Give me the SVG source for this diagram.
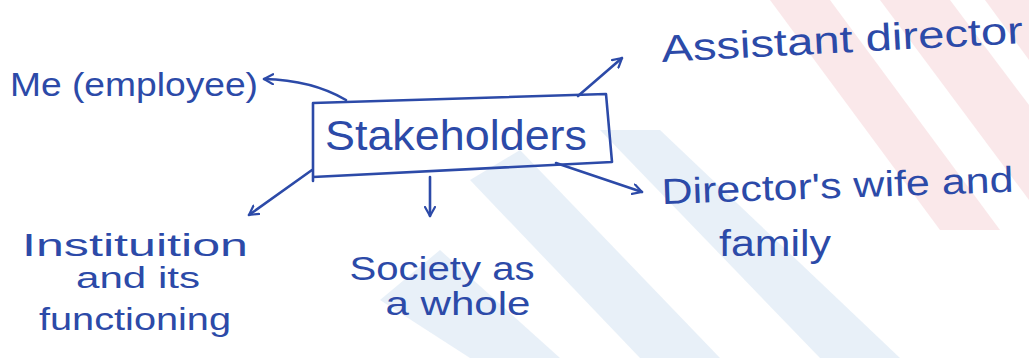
<svg xmlns="http://www.w3.org/2000/svg" width="1029" height="358" viewBox="0 0 1029 358">
<defs>
<marker id="ah" viewBox="0 0 12 12" refX="10" refY="6" markerWidth="12" markerHeight="12" markerUnits="userSpaceOnUse" orient="auto">
<polyline points="1,1 10,6 1,11" fill="none" stroke="#2c4aa8" stroke-width="2.2" stroke-linecap="round" stroke-linejoin="round"/>
</marker>
<style>
.ink{fill:none;stroke:#2c4aa8;stroke-width:2.6;stroke-linecap:round;stroke-linejoin:round}
.t{font-family:"Liberation Sans","DejaVu Sans",sans-serif;fill:#2c4aa8}
.wp{fill:#f6d6d8;opacity:0.55}
.wb{fill:#d6e4f2;opacity:0.55}
</style>
</defs>
<rect width="1029" height="358" fill="#ffffff"/>
<g id="watermark">
<polygon class="wp" points="770,0 830,0 1000,230 940,230"/>
<polygon class="wp" points="880,0 950,0 1029,105 1029,200"/>
<polygon class="wp" points="985,0 1029,0 1029,60"/>
<polygon class="wb" points="600,130 660,130 900,358 820,358"/>
<polygon class="wb" points="470,180 520,150 720,358 640,358"/>
<polygon class="wb" points="380,300 440,250 560,358 470,358"/>
</g>
<g id="connectors">
<path class="ink" d="M346,100 Q312,80 264,79" marker-end="url(#ah)"/>
<path class="ink" d="M578,96 L622,58" marker-end="url(#ah)"/>
<path class="ink" d="M556,163 Q600,178 642,192" marker-end="url(#ah)"/>
<path class="ink" d="M430,177 L430,216" marker-end="url(#ah)"/>
<path class="ink" d="M312,170 L249,215" marker-end="url(#ah)"/>
</g>
<g id="stakeholders">
<path class="ink" d="M313,103 L606,94 L612,162 L313,177 Z M313,177 L313,181"/>
<text class="t" x="325" y="150" font-size="42" textLength="262" lengthAdjust="spacingAndGlyphs">Stakeholders</text>
</g>
<g id="me-employee">
<text class="t" x="10" y="96" font-size="34" textLength="248" lengthAdjust="spacingAndGlyphs">Me (employee)</text>
</g>
<g id="assistant-director">
<text class="t" x="662" y="62" font-size="38" textLength="362" lengthAdjust="spacingAndGlyphs" transform="rotate(-3 662 62)">Assistant director</text>
</g>
<g id="directors-wife">
<text class="t" x="662" y="204" font-size="36" textLength="352" lengthAdjust="spacingAndGlyphs" transform="rotate(-2 662 204)">Director's wife and</text>
<text class="t" x="775" y="256" font-size="36" text-anchor="middle" textLength="112" lengthAdjust="spacingAndGlyphs">family</text>
</g>
<g id="society">
<text class="t" x="442" y="280" font-size="34" text-anchor="middle" textLength="185" lengthAdjust="spacingAndGlyphs">Society as</text>
<text class="t" x="458" y="315" font-size="34" text-anchor="middle" textLength="145" lengthAdjust="spacingAndGlyphs">a whole</text>
</g>
<g id="institution">
<text class="t" x="135" y="256" font-size="32" text-anchor="middle" textLength="226" lengthAdjust="spacingAndGlyphs">Instituition</text>
<text class="t" x="138" y="288" font-size="30" text-anchor="middle" textLength="124" lengthAdjust="spacingAndGlyphs">and its</text>
<text class="t" x="135" y="330" font-size="32" text-anchor="middle" textLength="192" lengthAdjust="spacingAndGlyphs">functioning</text>
</g>
</svg>
